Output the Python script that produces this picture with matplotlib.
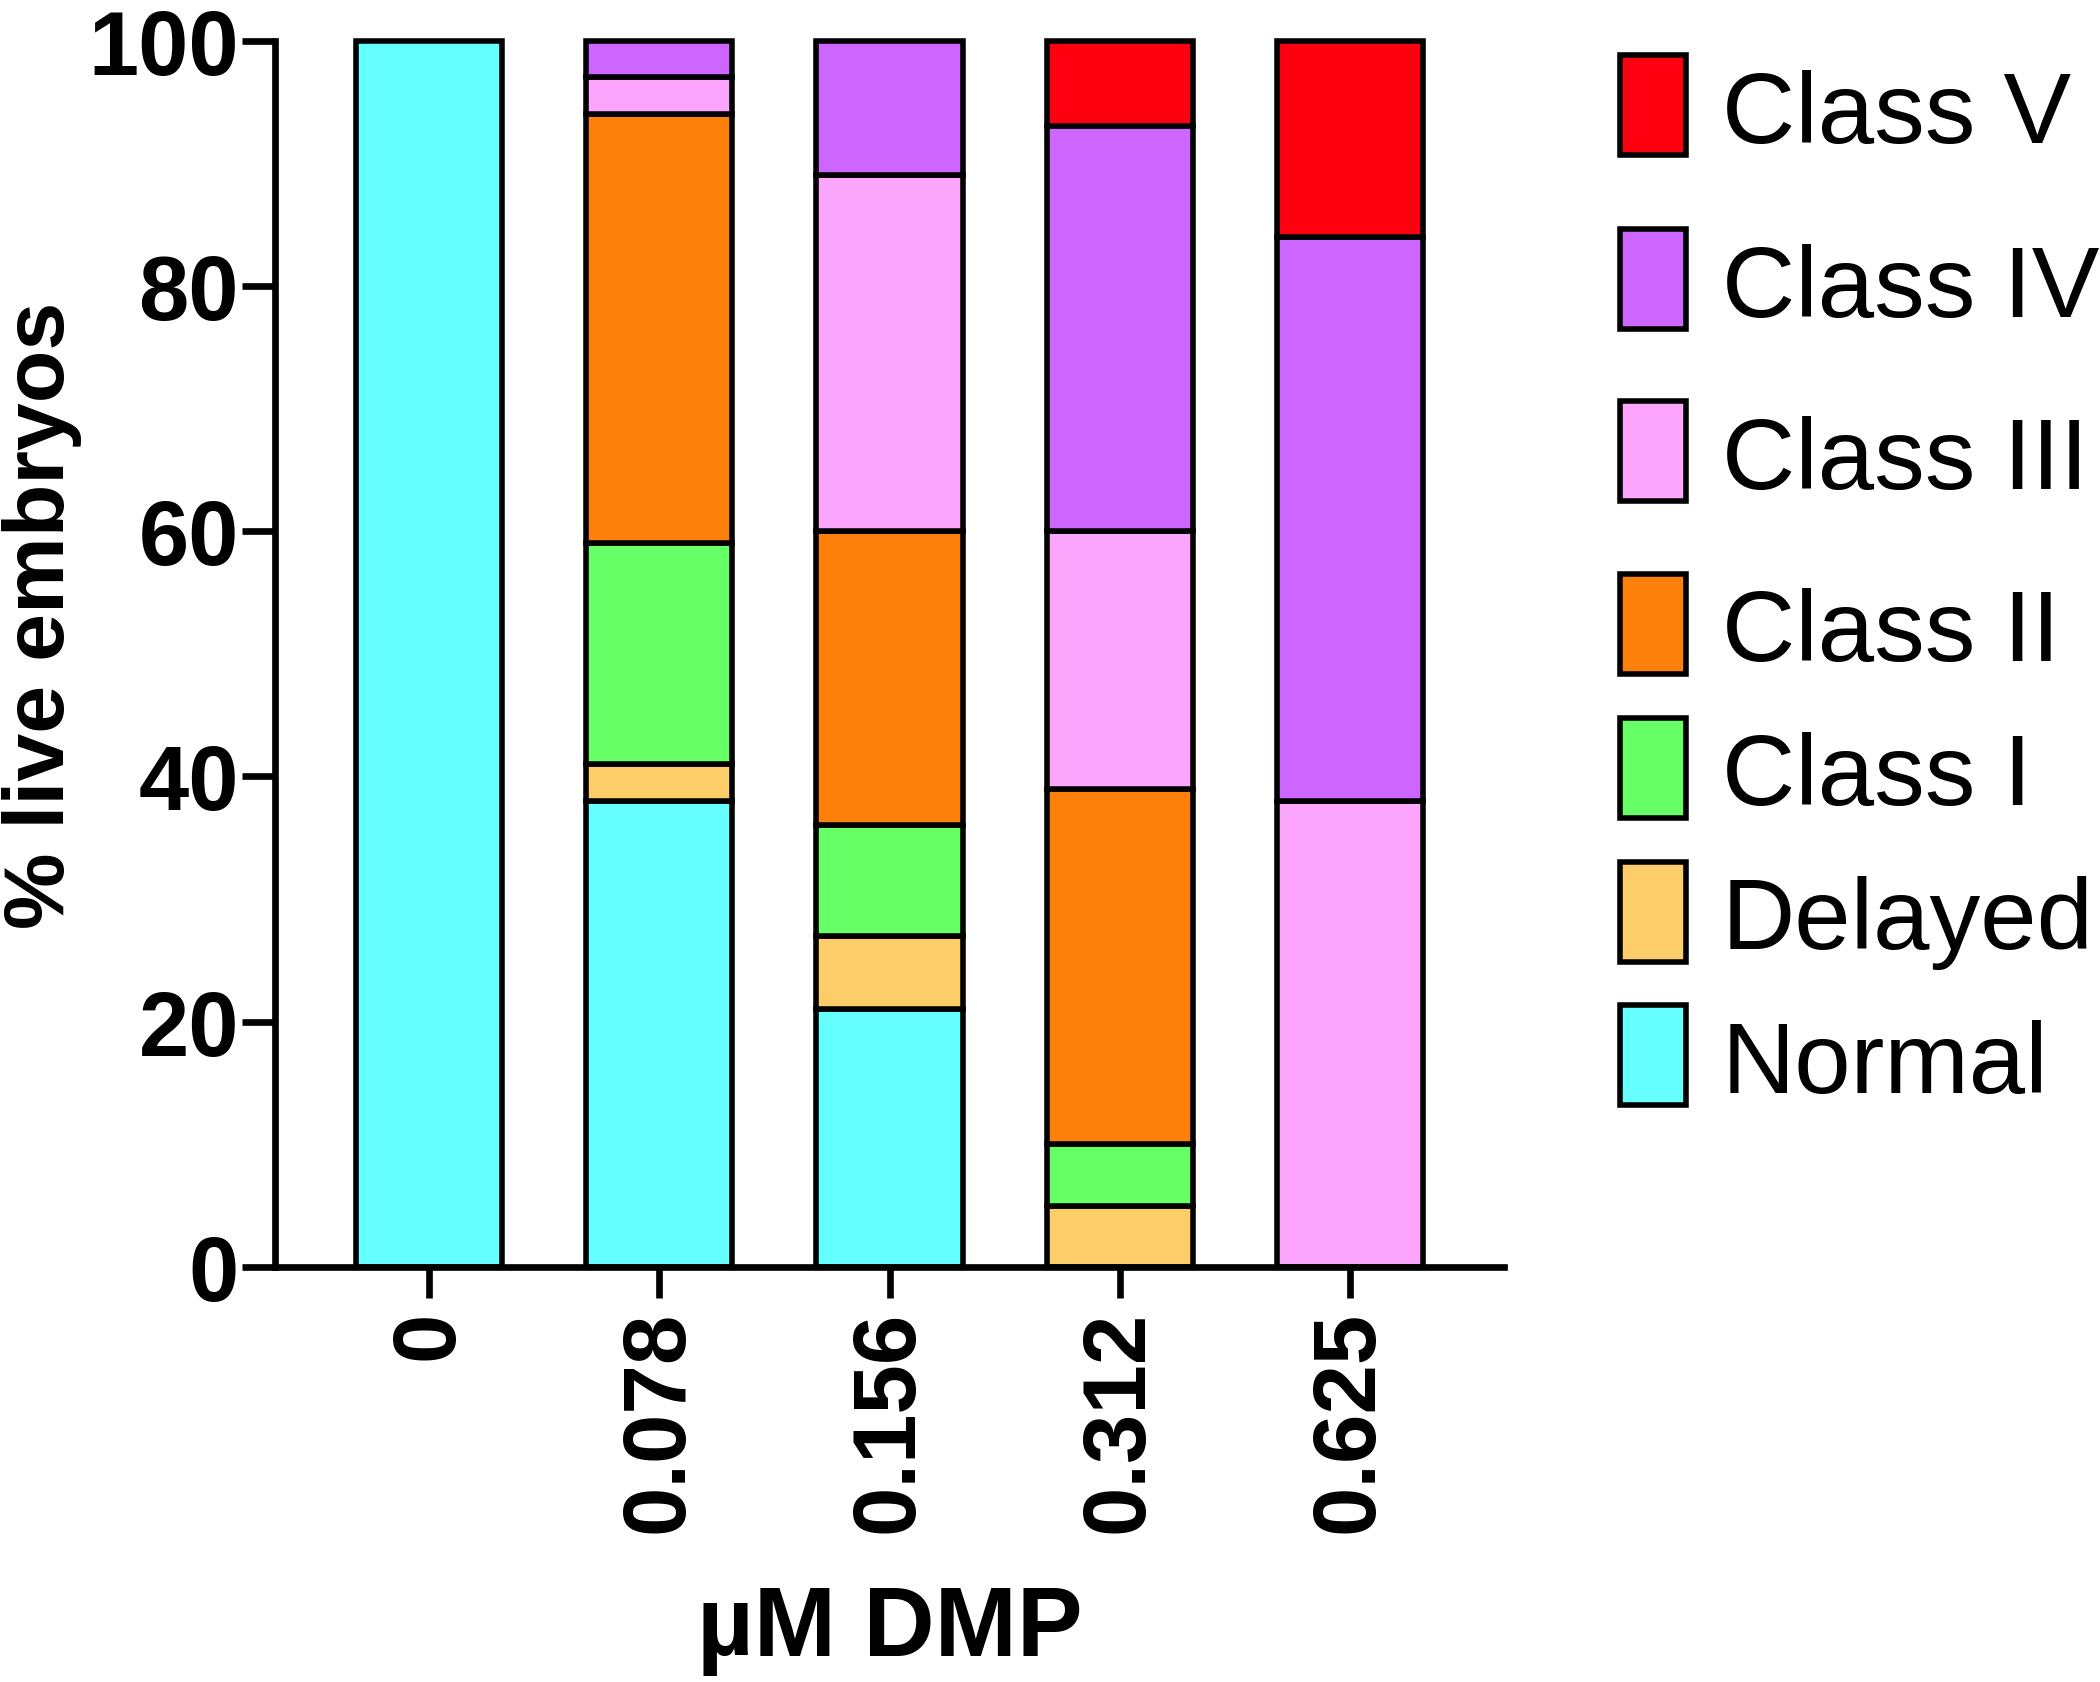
import matplotlib
matplotlib.use("Agg")
import matplotlib.pyplot as plt
from matplotlib.patches import Rectangle
import numpy as np

# ---- data ----
doses = ["0", "0.078", "0.156", "0.312", "0.625"]
categories = ["Normal", "Delayed", "Class I", "Class II", "Class III", "Class IV", "Class V"]
normal    = [100, 38, 21, 0, 0]
delayed   = [0, 3, 6, 5, 0]
class_i   = [0, 18, 9, 5, 0]
class_ii  = [0, 35, 24, 29, 0]
class_iii = [0, 3, 29, 21, 38]
class_iv  = [0, 3, 11, 33, 46]
class_v   = [0, 0, 0, 7, 16]
colors = ["#66FFFF", "#FDCD6A", "#66FF66", "#FD800A", "#FBA6FC", "#CC66FF", "#FF0010"]
yticks = [0, 20, 40, 60, 80, 100]

series = [normal, delayed, class_i, class_ii, class_iii, class_iv, class_v]

plt.rcParams['font.family'] = ['Liberation Sans', 'DejaVu Sans']

W, H = 2100, 1683
fig = plt.figure(figsize=(W / 100, H / 100), dpi=100)
ax = fig.add_axes([275 / W, 1 - 1268 / H, (1504 - 275) / W, (1268 - 41.5) / H])

x = np.arange(len(doses))
bottom = np.zeros(len(doses))
for vals, col, lab in zip(series, colors, categories):
    v = np.array(vals, dtype=float)
    mask = v > 0
    ax.bar(x[mask], v[mask], width=0.635, bottom=bottom[mask], color=col,
           edgecolor="black", linewidth=4, label=lab, clip_on=False, zorder=2)
    bottom += v

ax.set_xlim(-0.67, 4.67)
ax.set_ylim(0, 100)
ax.set_yticks(yticks)
ax.set_yticklabels([str(t) for t in yticks], fontsize=65, fontweight="bold")
ax.set_xticks(x)
ax.set_xticklabels(doses, fontsize=64, fontweight="bold", rotation=90)

for s in ["top", "right"]:
    ax.spines[s].set_visible(False)
for s in ["left", "bottom"]:
    ax.spines[s].set_linewidth(4.8)
    ax.spines[s].set_zorder(3)
ax.tick_params(axis="y", length=24, width=4.8, pad=2)
ax.tick_params(axis="x", length=22, width=4.8, pad=9)

ax.set_ylabel("% live embryos", fontsize=62, fontweight="bold")
ax.yaxis.set_label_coords(-0.157, 0.532)
fig.text(890 / W, 1 - 1656 / H, "\u00b5M DMP", fontsize=71, fontweight="bold",
         ha="center", va="baseline")

# ---- legend (top to bottom: Class V ... Normal) ----
centers = [106, 280, 452, 625, 769, 913, 1056]
for cy, lab, col in zip(centers, categories[::-1], colors[::-1]):
    fig.add_artist(Rectangle((1620 / W, 1 - (cy + 50) / H), 66 / W, 100 / H,
                             transform=fig.transFigure, facecolor=col,
                             edgecolor="black", linewidth=4))
    fig.text(1722 / W, 1 - cy / H, lab, fontsize=73, ha="left", va="center_baseline")

fig.savefig("out.png", dpi=100)
